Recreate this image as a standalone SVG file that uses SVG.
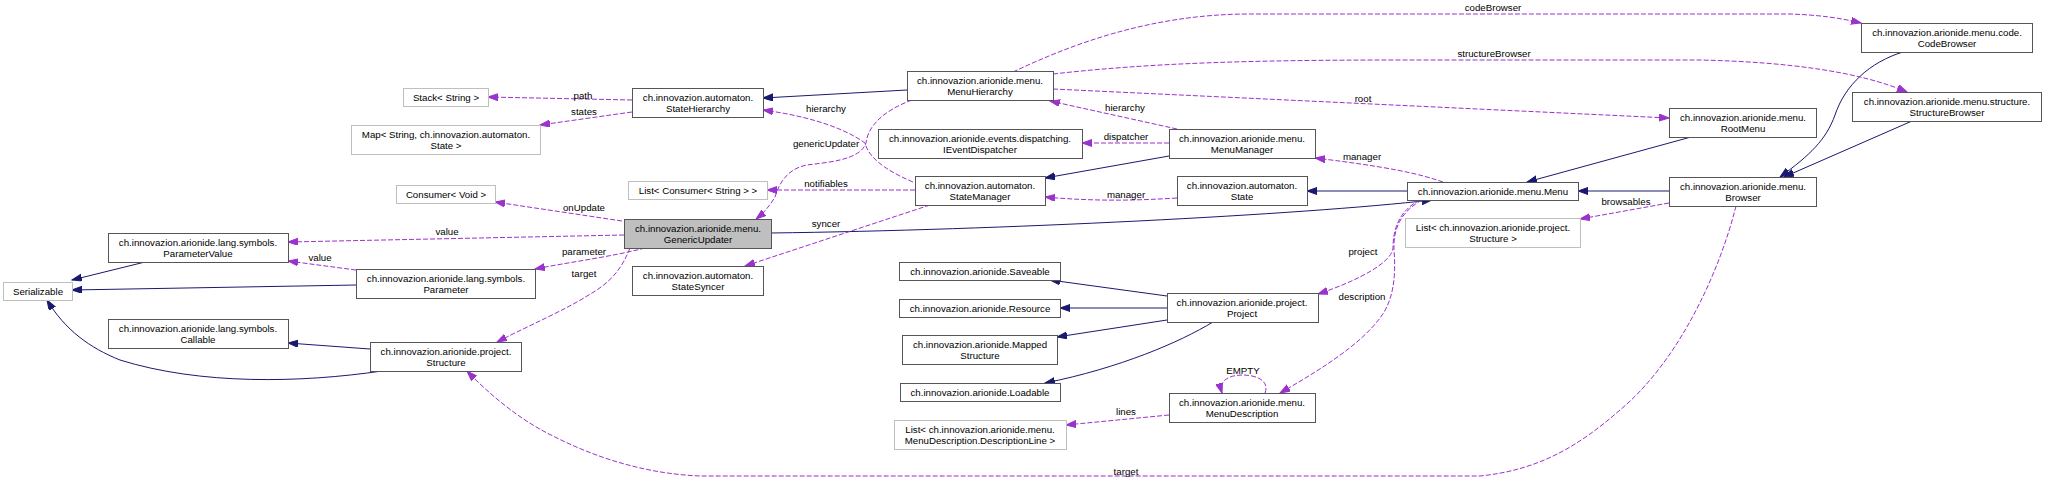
<svg xmlns="http://www.w3.org/2000/svg" width="2045" height="481" viewBox="0 0 2045 481">
<style>
rect{fill:#fff;stroke:#555;stroke-width:1}
.ext rect{stroke:#bfbfbf}
.cur rect{fill:#bfbfbf}
text{font-family:"Liberation Sans",Arial,Helvetica,sans-serif;font-size:9.7px;text-anchor:middle;fill:#000}
.inh{fill:none;stroke:#191970;stroke-width:1;marker-end:url(#an)}
.use{fill:none;stroke:#9a32cd;stroke-width:1;stroke-dasharray:5,2;marker-end:url(#ap)}
</style>
<defs>
<marker id="an" markerUnits="userSpaceOnUse" markerWidth="11" markerHeight="8" refX="10" refY="3.5" orient="auto"><path d="M0,0 L10,3.5 L0,7 z" fill="#191970" stroke="#191970"/></marker>
<marker id="ap" markerUnits="userSpaceOnUse" markerWidth="11" markerHeight="8" refX="10" refY="3.5" orient="auto"><path d="M0,0 L10,3.5 L0,7 z" fill="#9a32cd" stroke="#9a32cd"/></marker>
</defs>
<rect x="0" y="0" width="2045" height="481" style="fill:#fff;stroke:none"/>

<g id="edges">
<path class="inh" d="M907,90 L763,98"/>
<path class="inh" d="M1169,156 L1045,178"/>
<path class="inh" d="M1407,191 L1307,191"/>
<path class="inh" d="M771,233 C1000,230 1300,215 1432,200"/>
<path class="inh" d="M1691,137 L1527,182"/>
<path class="inh" d="M1669,191 L1578,191"/>
<path class="inh" d="M1903,52 C1870,62 1845,85 1835,115 C1826,140 1810,155 1780,177"/>
<path class="inh" d="M1912,121 L1784,177"/>
<path class="inh" d="M145,262 L72,280"/>
<path class="inh" d="M356,285 L72,290"/>
<path class="inh" d="M1167,296 L1050,280"/>
<path class="inh" d="M1167,308 L1060,308"/>
<path class="inh" d="M1167,320 L1057,337"/>
<path class="inh" d="M1213,322 C1180,342 1120,368 1045,383"/>
<path class="inh" d="M370,349 L288,343"/>
<path class="inh" d="M382,371 C300,383 200,385 120,360 C90,348 65,330 47,300"/>

<path class="use" d="M632,100 L488,97"/>
<text x="583" y="98.5">path</text>
<path class="use" d="M632,112 L540,125"/>
<text x="584" y="115">states</text>
<path class="use" d="M622,221 L495,202"/>
<text x="584" y="211">onUpdate</text>
<path class="use" d="M624,235 L288,242"/>
<text x="447" y="235">value</text>
<path class="use" d="M356,270 L288,261"/>
<text x="320" y="261">value</text>
<path class="use" d="M645,248 C610,257 570,262 535,269"/>
<text x="584" y="255">parameter</text>
<path class="use" d="M630,248 C622,268 612,282 587,296 C565,310 530,325 497,342"/>
<text x="584" y="277">target</text>
<path class="use" d="M913,182 C880,168 868,155 865,143 C840,125 800,115 763,110"/>
<text x="826" y="112">hierarchy</text>
<path class="use" d="M912,100 C885,110 868,125 866,143 C860,160 830,162 807,165 C790,168 780,180 775,197 C770,205 765,212 756,219"/>
<text x="826" y="147">genericUpdater</text>
<path class="use" d="M915,190 L767,190"/>
<text x="826" y="187">notifiables</text>
<path class="use" d="M930,205 L745,266"/>
<text x="826" y="227">syncer</text>
<path class="use" d="M1177,129 L1050,101"/>
<text x="1125" y="111">hierarchy</text>
<path class="use" d="M1169,143 L1082,143"/>
<text x="1126" y="140">dispatcher</text>
<path class="use" d="M1177,198 C1130,201 1090,201 1045,197"/>
<text x="1126" y="198">manager</text>
<path class="use" d="M1443,182 C1420,174 1390,167 1315,158"/>
<text x="1362" y="160">manager</text>
<path class="use" d="M1053,89 L1669,118"/>
<text x="1363" y="102">root</text>
<path class="use" d="M1013,72 C1070,45 1150,14 1250,14 L1790,14 C1820,15 1840,18 1861,23"/>
<text x="1493" y="11">codeBrowser</text>
<path class="use" d="M1053,74 C1150,63 1250,60 1400,60 L1700,60 C1790,62 1860,72 1907,92"/>
<text x="1494" y="57">structureBrowser</text>
<path class="use" d="M1669,203 L1580,219"/>
<text x="1626" y="205">browsables</text>
<path class="use" d="M1420,200 C1400,210 1393,228 1393,248 C1392,262 1360,280 1318,294"/>
<text x="1363" y="255">project</text>
<path class="use" d="M1422,200 C1400,212 1393,230 1394,250 C1396,275 1394,300 1380,318 C1360,345 1320,370 1280,393"/>
<text x="1362" y="300">description</text>
<path class="use" d="M1265,393 C1270,380 1255,375 1243,375 C1230,375 1218,380 1222,393"/>
<text x="1243" y="374">EMPTY</text>
<path class="use" d="M1169,415 L1066,425"/>
<text x="1126" y="415">lines</text>
<path class="use" d="M1736,206 C1720,270 1680,360 1620,410 C1580,445 1540,470 1480,476 L700,476 C650,474 600,460 553,436 C520,420 490,395 467,371"/>
<text x="1126" y="475">target</text>
</g>

<g id="n_GenericUpdater" class="cur"><rect x="624.5" y="219.5" width="147" height="29"/><text x="698" y="232">ch.innovazion.arionide.menu.</text><text x="698" y="242.5">GenericUpdater</text></g>
<g id="n_Menu"><rect x="1407.5" y="182.5" width="171" height="18"/><text x="1493" y="195">ch.innovazion.arionide.menu.Menu</text></g>
<g id="n_MenuHierarchy"><rect x="907.5" y="71.5" width="146" height="29"/><text x="980" y="84">ch.innovazion.arionide.menu.</text><text x="980" y="94.5">MenuHierarchy</text></g>
<g id="n_StateHierarchy"><rect x="632.5" y="88.5" width="131" height="29"/><text x="698" y="101">ch.innovazion.automaton.</text><text x="698" y="111.5">StateHierarchy</text></g>
<g id="n_Stack" class="ext"><rect x="403.5" y="88.5" width="85" height="18"/><text x="446" y="101">Stack&lt; String &gt;</text></g>
<g id="n_Map" class="ext"><rect x="351.5" y="125.5" width="189" height="29"/><text x="446" y="138">Map&lt; String, ch.innovazion.automaton.</text><text x="446" y="148.5">State &gt;</text></g>
<g id="n_IEventDispatcher"><rect x="878.5" y="129.5" width="204" height="29"/><text x="980" y="142">ch.innovazion.arionide.events.dispatching.</text><text x="980" y="152.5">IEventDispatcher</text></g>
<g id="n_MenuManager"><rect x="1169.5" y="129.5" width="146" height="29"/><text x="1242" y="142">ch.innovazion.arionide.menu.</text><text x="1242" y="152.5">MenuManager</text></g>
<g id="n_StateManager"><rect x="915.5" y="176.5" width="130" height="29"/><text x="980" y="189">ch.innovazion.automaton.</text><text x="980" y="199.5">StateManager</text></g>
<g id="n_State"><rect x="1177.5" y="176.5" width="130" height="29"/><text x="1242" y="189">ch.innovazion.automaton.</text><text x="1242" y="199.5">State</text></g>
<g id="n_ListConsumer" class="ext"><rect x="628.5" y="181.5" width="139" height="18"/><text x="698" y="194">List&lt; Consumer&lt; String &gt; &gt;</text></g>
<g id="n_ConsumerVoid" class="ext"><rect x="396.5" y="185.5" width="99" height="18"/><text x="446" y="198">Consumer&lt; Void &gt;</text></g>
<g id="n_StateSyncer"><rect x="632.5" y="266.5" width="131" height="29"/><text x="698" y="279">ch.innovazion.automaton.</text><text x="698" y="289.5">StateSyncer</text></g>
<g id="n_ParameterValue"><rect x="108.5" y="233.5" width="180" height="29"/><text x="198" y="246">ch.innovazion.arionide.lang.symbols.</text><text x="198" y="256.5">ParameterValue</text></g>
<g id="n_Parameter"><rect x="356.5" y="269.5" width="179" height="29"/><text x="446" y="282">ch.innovazion.arionide.lang.symbols.</text><text x="446" y="292.5">Parameter</text></g>
<g id="n_Serializable" class="ext"><rect x="3.5" y="282.5" width="69" height="18"/><text x="38" y="295">Serializable</text></g>
<g id="n_Callable"><rect x="108.5" y="319.5" width="180" height="29"/><text x="198" y="332">ch.innovazion.arionide.lang.symbols.</text><text x="198" y="342.5">Callable</text></g>
<g id="n_Structure"><rect x="370.5" y="342.5" width="151" height="29"/><text x="446" y="355">ch.innovazion.arionide.project.</text><text x="446" y="365.5">Structure</text></g>
<g id="n_Saveable"><rect x="899.5" y="262.5" width="161" height="18"/><text x="980" y="275">ch.innovazion.arionide.Saveable</text></g>
<g id="n_Resource"><rect x="899.5" y="299.5" width="161" height="18"/><text x="980" y="312">ch.innovazion.arionide.Resource</text></g>
<g id="n_MappedStructure"><rect x="902.5" y="335.5" width="155" height="29"/><text x="980" y="348">ch.innovazion.arionide.Mapped</text><text x="980" y="358.5">Structure</text></g>
<g id="n_Loadable"><rect x="900.5" y="383.5" width="160" height="18"/><text x="980" y="396">ch.innovazion.arionide.Loadable</text></g>
<g id="n_ListDescLine" class="ext"><rect x="894.5" y="420.5" width="172" height="29"/><text x="980" y="433">List&lt; ch.innovazion.arionide.menu.</text><text x="980" y="443.5">MenuDescription.DescriptionLine &gt;</text></g>
<g id="n_Project"><rect x="1167.5" y="293.5" width="151" height="29"/><text x="1242" y="306">ch.innovazion.arionide.project.</text><text x="1242" y="316.5">Project</text></g>
<g id="n_MenuDescription"><rect x="1169.5" y="393.5" width="146" height="29"/><text x="1242" y="406">ch.innovazion.arionide.menu.</text><text x="1242" y="416.5">MenuDescription</text></g>
<g id="n_RootMenu"><rect x="1669.5" y="108.5" width="147" height="29"/><text x="1743" y="121">ch.innovazion.arionide.menu.</text><text x="1743" y="131.5">RootMenu</text></g>
<g id="n_Browser"><rect x="1669.5" y="177.5" width="147" height="29"/><text x="1743" y="190">ch.innovazion.arionide.menu.</text><text x="1743" y="200.5">Browser</text></g>
<g id="n_ListStructure" class="ext"><rect x="1405.5" y="218.5" width="175" height="29"/><text x="1493" y="231">List&lt; ch.innovazion.arionide.project.</text><text x="1493" y="241.5">Structure &gt;</text></g>
<g id="n_CodeBrowser"><rect x="1861.5" y="23.5" width="171" height="29"/><text x="1947" y="36">ch.innovazion.arionide.menu.code.</text><text x="1947" y="46.5">CodeBrowser</text></g>
<g id="n_StructureBrowser"><rect x="1852.5" y="92.5" width="189" height="29"/><text x="1947" y="105">ch.innovazion.arionide.menu.structure.</text><text x="1947" y="115.5">StructureBrowser</text></g>
</svg>
